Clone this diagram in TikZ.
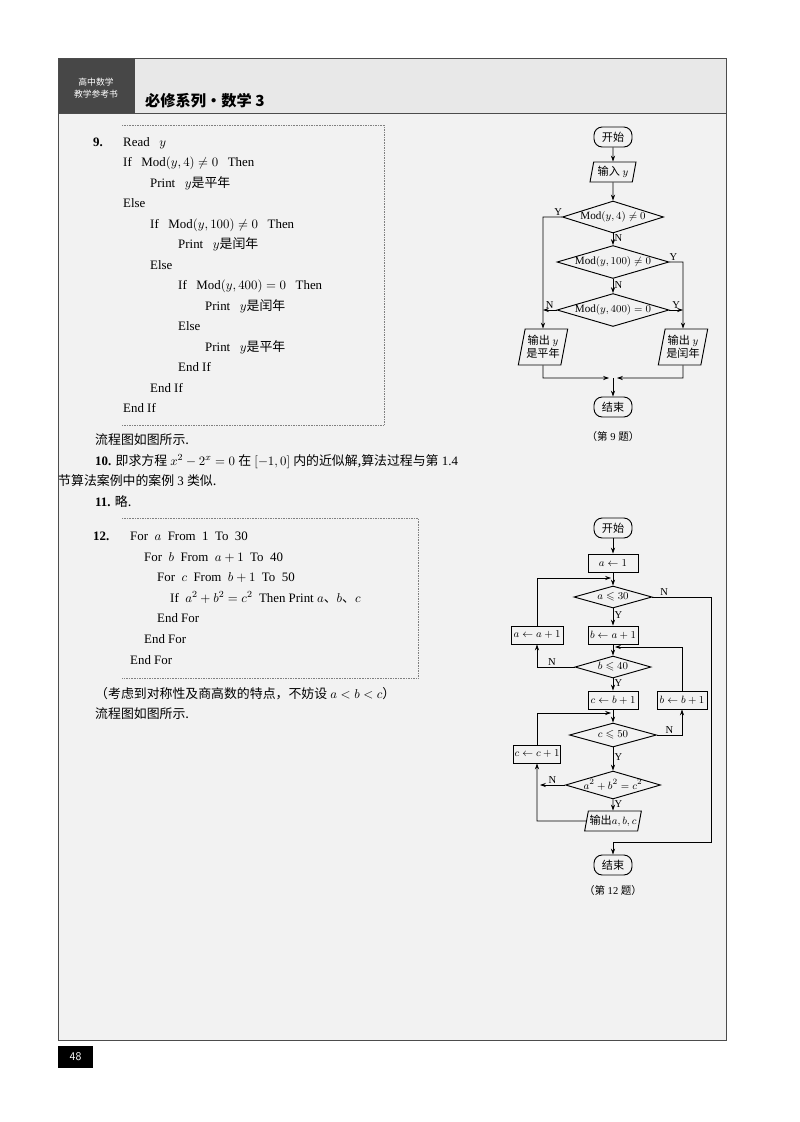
\documentclass[tikz,border=0pt]{standalone}
\usepackage{fontspec}
\usepackage{amsmath,amssymb}
\setmainfont{Liberation Serif}
\newfontfamily\cjk{Noto Sans CJK SC}
\newcommand{\zh}[1]{{\cjk #1}}
\usetikzlibrary{shapes.geometric,arrows.meta}
\begin{document}
\begin{tikzpicture}[x=0.3mm,y=-0.3mm,
  t/.style={anchor=base west,inner sep=0,font=\fontsize{11}{13}\selectfont},
  fc/.style={draw,thick,inner sep=1pt,font=\fontsize{9.5}{11}\selectfont,align=center},
  term/.style={fc,rounded corners=7pt,minimum width=38*0.3mm,minimum height=20*0.3mm},
  box/.style={fc,minimum width=50*0.3mm,minimum height=18*0.3mm},
  io/.style={fc,trapezium,trapezium left angle=75,trapezium right angle=105,minimum height=20*0.3mm,trapezium stretches body},
  dia/.style={fc,diamond,aspect=3.4,inner sep=0pt},
  lab/.style={font=\fontsize{9}{10}\selectfont,inner sep=1pt},
  ar/.style={semithick,-{Stealth[length=5pt,width=3.5pt]}},
  dots/.style={densely dotted,gray}]
\useasboundingbox (0,0) rectangle (800,1122);
\fill[white] (0,0) rectangle (800,1122);
\fill[gray!10] (58,58) rectangle (726,1040);
\fill[gray!18] (58,58) rectangle (726,113);
\fill[black!72] (58,58) rectangle (135,113);
\draw[black!70] (58,58) rectangle (726,1040);
\draw[black!70] (58,113) -- (726,113);
\node[text=white,font=\fontsize{7.5}{10}\selectfont\cjk,align=center] (hd) at (96,88) {高中数学\\教学参考书};
\node[t,font=\fontsize{13}{15}\selectfont\cjk\bfseries] (title) at (145,106) {必修系列·数学 3};
\fill[black] (58,1046) rectangle (93,1068);
\node[text=white,font=\fontsize{10}{12}\selectfont\sffamily] (pg) at (75.5,1057) {48};
% code box 9
\draw[dots] (122,125) -- (384,125) -- (384,425) -- (122,425);
\node[t] (l1) at (93,146) {\textbf{9.}};
\node[t] (l1b) at (123,146) {Read \ \ $y$};
\node[t] (l2) at (123,166) {If \ \ Mod$(y,4)\neq 0$ \ \ Then};
\node[t] (l3) at (150,187) {Print \ \ $y$\zh{是平年}};
\node[t] (l4) at (123,207) {Else};
\node[t] (l5) at (150,228) {If \ \ Mod$(y,100)\neq 0$ \ \ Then};
\node[t] (l6) at (178,248) {Print \ \ $y$\zh{是闰年}};
\node[t] (l7) at (150,269) {Else};
\node[t] (l8) at (178,289) {If \ \ Mod$(y,400)=0$ \ \ Then};
\node[t] (l9) at (205,310) {Print \ \ $y$\zh{是闰年}};
\node[t] (l10) at (178,330) {Else};
\node[t] (l11) at (205,351) {Print \ \ $y$\zh{是平年}};
\node[t] (l12) at (178,371) {End If};
\node[t] (l13) at (150,392) {End If};
\node[t] (l14) at (123,412) {End If};
\node[t] (p1) at (95,444) {\zh{流程图如图所示.}};
\node[t] (p2) at (95,465) {\textbf{10.} \zh{即求方程} $x^2-2^x=0$ \zh{在} $[-1,0]$ \zh{内的近似解,算法过程与第} 1.4};
\node[t] (p3) at (58,485) {\zh{节算法案例中的案例} 3 \zh{类似.}};
\node[t] (p4) at (95,506) {\textbf{11.} \zh{略.}};
% code box 12
\draw[dots] (122,518) -- (418,518) -- (418,678) -- (122,678);
\node[t] (m0) at (93,540) {\textbf{12.}};
\node[t] (m1) at (130,540) {For \ $a$ \ From \ 1 \ To \ 30};
\node[t] (m2) at (144,561) {For \ $b$ \ From \ $a+1$ \ To \ 40};
\node[t] (m3) at (157,581) {For \ $c$ \ From \ $b+1$ \ To \ 50};
\node[t] (m4) at (170,602) {If \ $a^2+b^2=c^2$ \ Then Print $a$\zh{、}$b$\zh{、}$c$};
\node[t] (m5) at (157,622) {End For};
\node[t] (m6) at (144,643) {End For};
\node[t] (m7) at (130,664) {End For};
\node[t] (p5) at (95,698) {\zh{（考虑到对称性及商高数的特点，不妨设} $a<b<c$\zh{）}};
\node[t] (p6) at (95,718) {\zh{流程图如图所示.}};
% flowchart 9
\node[term] (s9) at (613,137) {\zh{开始}};
\node[io,minimum width=46*0.3mm] (in9) at (613,172) {\zh{输入} $y$};
\node[dia,minimum width=98*0.3mm,minimum height=32*0.3mm] (d1) at (613,217) {Mod$(y,4)\neq0$};
\node[dia,minimum width=98*0.3mm,minimum height=28*0.3mm] (d2) at (613,262) {Mod$(y,100)\neq0$};
\node[dia,minimum width=98*0.3mm,minimum height=30*0.3mm] (d3) at (613,310) {Mod$(y,400)=0$};
\node[io,minimum width=44*0.3mm,minimum height=36*0.3mm] (o1) at (543,347) {\zh{输出} $y$\\\zh{是平年}};
\node[io,minimum width=44*0.3mm,minimum height=36*0.3mm] (o2) at (683,347) {\zh{输出} $y$\\\zh{是闰年}};
\node[term] (e9) at (613,407) {\zh{结束}};
\node[font=\fontsize{9}{10}\selectfont] (c9) at (613,436) {\zh{（第} 9 \zh{题）}};
\coordinate (j9) at (613,378);
\draw[ar] (s9) -- (in9);
\draw[ar] (in9) -- (d1);
\draw[ar] (d1) -- node[lab,right,pos=0.4]{N} (d2);
\draw[ar] (d2) -- node[lab,right,pos=0.4]{N} (d3);
\draw[ar] (d1.west) -- node[lab,above,pos=0.2]{Y} (543,217) -- (o1.north);
\draw[ar] (d2.east) -- node[lab,above,pos=0.3]{Y} (683,262) -- (o2.north);
\draw[ar] (d3.west) -- node[lab,above]{N} (543,310);
\draw[ar] (d3.east) -- node[lab,above]{Y} (683,310);
\draw[ar] (o1.south) -- (543,378) -- (609,378);
\draw[ar] (o2.south) -- (683,378) -- (617,378);
\draw[ar] (j9) -- (e9);
% flowchart 12
\node[term] (s12) at (613,528) {\zh{开始}};
\node[box] (a1) at (613,563) {$a\leftarrow1$};
\node[dia,minimum width=78*0.3mm,minimum height=22*0.3mm] (da) at (613,597) {$a\leqslant30$};
\node[box] (b1) at (613,635) {$b\leftarrow a+1$};
\node[box,minimum width=52*0.3mm] (ai) at (537,635) {$a\leftarrow a+1$};
\node[dia,minimum width=76*0.3mm,minimum height=22*0.3mm] (db) at (613,667) {$b\leqslant40$};
\node[box] (c1) at (613,700) {$c\leftarrow b+1$};
\node[box] (bi) at (682,700) {$b\leftarrow b+1$};
\node[dia,minimum width=87*0.3mm,minimum height=24*0.3mm] (dc) at (613,735) {$c\leqslant50$};
\node[box,minimum width=46*0.3mm] (ci) at (537,754) {$c\leftarrow c+1$};
\node[dia,minimum width=87*0.3mm,minimum height=24*0.3mm] (dd) at (613,785) {$a^2+b^2=c^2$};
\node[io,minimum width=54*0.3mm] (o12) at (613,821) {\zh{输出}$a,b,c$};
\node[term] (e12) at (613,865) {\zh{结束}};
\node[font=\fontsize{9}{10}\selectfont] (c12) at (613,890) {\zh{（第} 12 \zh{题）}};
\draw[ar] (s12) -- (a1);
\draw[ar] (a1) -- (da);
\draw[ar] (da) -- node[lab,right,pos=0.4]{Y} (b1);
\draw[ar] (b1) -- (db);
\draw[ar] (db) -- node[lab,right,pos=0.4]{Y} (c1);
\draw[ar] (c1) -- (dc);
\draw[ar] (dc) -- node[lab,right,pos=0.4]{Y} (dd);
\draw[ar] (dd) -- node[lab,right,pos=0.4]{Y} (o12);
\draw[ar] (ai.north) -- (537,578) -- (611,578);
\draw[ar] (db.west) -- node[lab,above,pos=0.6]{N} (537,667) -- (ai.south);
\draw[ar] (da.east) -- node[lab,above,pos=0.2]{N} (711,597) -- (711,842) -- (613,842) -- (e12.north);
\draw[ar] (bi.north) -- (682,647) -- (615,647);
\draw[ar] (dc.east) -- node[lab,above,pos=0.5]{N} (682,735) -- (bi.south);
\draw[ar] (ci.north) -- (537,713) -- (611,713);
\draw[ar] (dd.west) -- node[lab,above,pos=0.5]{N} (540,785);
\draw[ar] (o12.west) -- (537,821) -- (ci.south);
\end{tikzpicture}
\end{document}
